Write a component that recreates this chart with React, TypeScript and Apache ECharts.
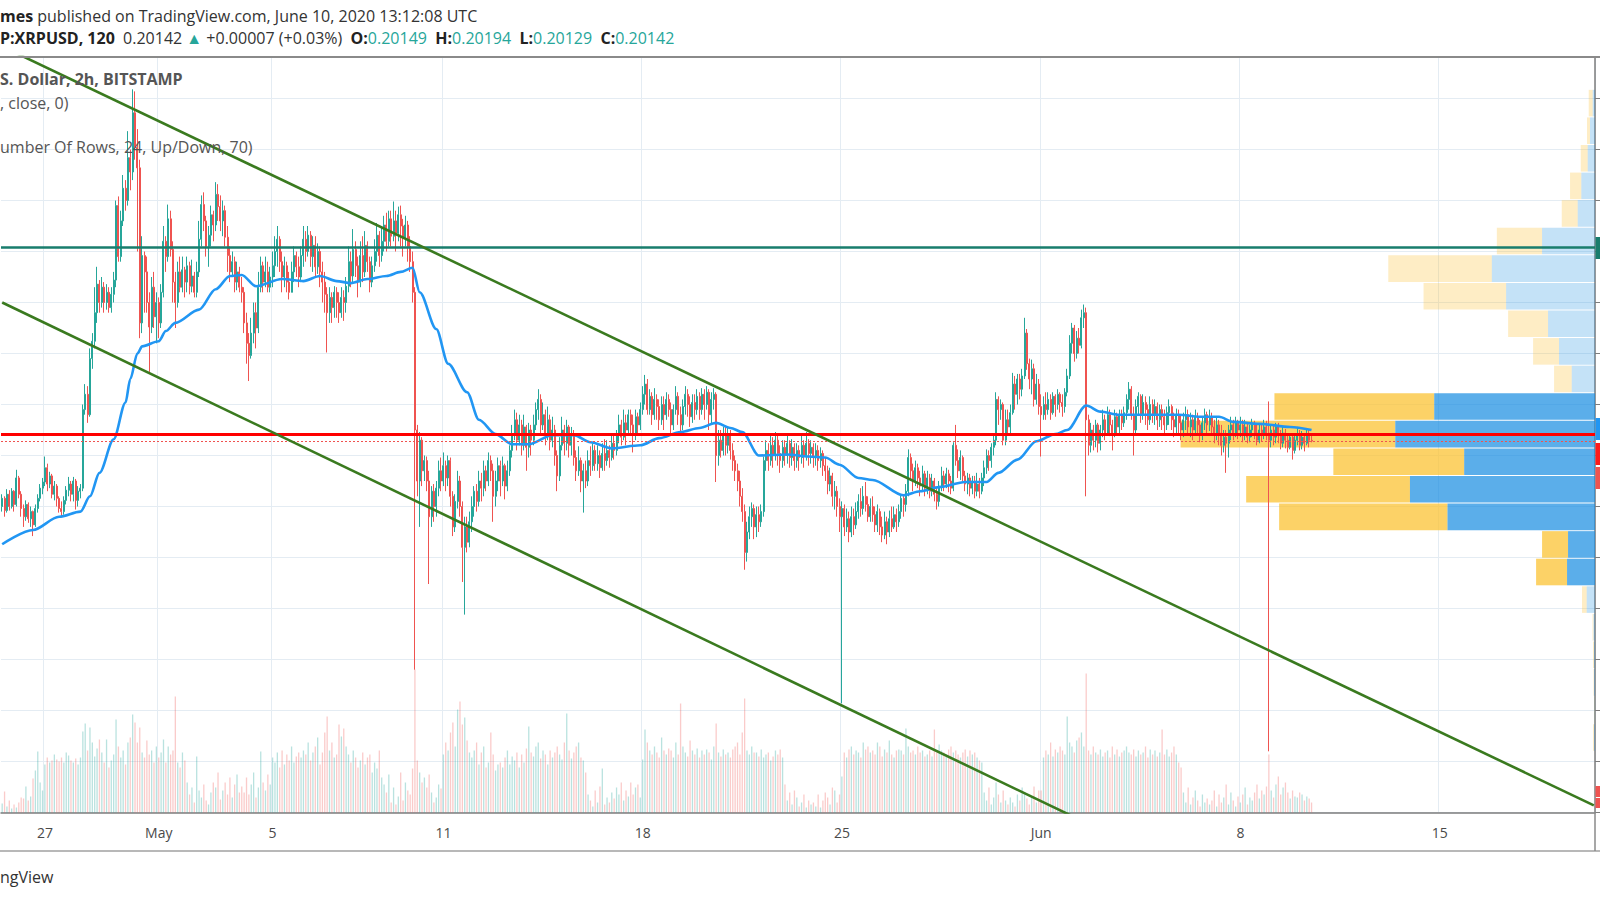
import React, { useEffect, useRef } from 'react';
import * as echarts from 'echarts';

// ---------- time axis ----------
const START_UTC = Date.UTC(2020, 3, 25, 12); // first 2h candle
const SLOT_MS = 2 * 3600 * 1000;
const TOTAL_SLOTS = 672; // visible slots incl. empty future space
const tickDates = ['2020-04-27', '2020-05-01', '2020-05-05', '2020-05-11', '2020-05-18', '2020-05-25', '2020-06-01', '2020-06-08', '2020-06-15'];
const tickLabels = ['27', 'May', '5', '11', '18', '25', 'Jun', '8', '15'];

// ---------- price data (units of 0.0001 USD) ----------
const firstOpen = 1950;
const closes = [
  1958,1946,1962,1950,1965,1952,
  1978,1962,1948,1940,1952,1938,1945,1932,1948,1958,1968,1974,
  1988,1972,1980,1962,1970,1958,1948,1945,1956,1966,1972,1962,
  1975,1956,1965,1968,2045,2060,2040,2095,2112,2140,2168,2150,
  2165,2150,2160,2145,2158,2172,2245,2195,2230,2262,2250,2292,
  2278,2336,2302,2282,2130,2196,2180,2150,2126,2165,2136,2150,
  2130,2160,2210,2195,2232,2202,2170,2150,2180,2165,2182,2170,
  2186,2166,2176,2160,2180,2212,2246,2230,2205,2216,2236,2226,
  2256,2244,2230,2240,2214,2196,2180,2190,2170,2180,2165,2160,
  2130,2110,2098,2120,2140,2125,2165,2186,2170,2180,2165,2175,
  2186,2200,2212,2190,2175,2186,2170,2160,2180,2196,2185,2175,
  2196,2212,2200,2216,2195,2206,2185,2200,2180,2170,2158,2140,
  2155,2145,2160,2150,2140,2155,2150,2166,2190,2176,2202,2186,
  2170,2196,2180,2206,2190,2170,2186,2200,2216,2196,2210,2226,
  2210,2232,2215,2230,2218,2236,2225,2214,2226,2205,2190,2160,
  2025,1975,2015,1985,1995,1975,1940,1965,1950,1968,1985,1975,
  1990,1978,1995,1960,1930,1955,1975,1950,1910,1930,1915,1935,
  1950,1965,1955,1975,1968,1985,1975,1995,1985,1960,1975,1990,
  1975,1990,1970,1985,2005,2020,2035,2015,2030,2010,2028,2008,
  2025,2015,2030,2045,2055,2030,2040,2020,2035,2015,2025,2000,
  1980,2010,2025,2012,2028,2010,2020,1998,1985,1995,1975,1985,
  1975,1995,1990,2005,1992,2000,1988,2002,1995,2005,1998,2012,
  2005,2020,2030,2018,2032,2025,2040,2030,2022,2038,2030,2045,
  2060,2070,2045,2058,2040,2055,2048,2035,2050,2040,2055,2045,
  2030,2045,2058,2040,2030,2048,2060,2050,2038,2052,2045,2058,
  2045,2060,2050,2062,2040,2055,2060,2000,2015,2005,2020,2010,
  2020,2005,1995,1985,1975,1960,1945,1905,1925,1940,1948,1930,
  1942,1935,1945,1995,2005,1995,2010,2000,2015,2002,1995,2008,
  2000,2012,1998,2008,1995,2005,1998,2010,2000,2012,2002,2008,
  1998,2005,1995,2002,1990,1985,1972,1980,1960,1965,1950,1940,
  1948,1930,1938,1925,1940,1932,1945,1955,1948,1960,1952,1940,
  1950,1942,1932,1945,1930,1922,1935,1925,1938,1930,1942,1935,
  1945,1958,1952,1965,1998,1985,1975,1988,1978,1970,1982,1968,
  1978,1965,1975,1962,1955,1970,1980,1972,1982,1975,1968,2010,
  1995,1985,1998,1980,1972,1978,1968,1975,1965,1972,1965,1978,
  1988,2000,1995,2008,2015,2055,2045,2050,2015,2035,2028,2042,
  2070,2060,2075,2065,2078,2120,2090,2075,2085,2055,2070,2048,
  2040,2050,2045,2055,2042,2058,2050,2060,2052,2048,2062,2078,
  2110,2125,2100,2115,2108,2135,2140,2035,2010,2025,2015,2030,
  2012,2025,2035,2022,2040,2030,2020,2038,2028,2040,2032,2042,
  2055,2065,2040,2025,2048,2058,2040,2052,2045,2035,2050,2040,
  2048,2035,2045,2038,2030,2042,2048,2035,2028,2040,2032,2025,
  2035,2040,2028,2035,2025,2038,2030,2020,2032,2040,2030,2038,
  2028,2020,2030,2022,2010,2018,2012,2025,2030,2022,2032,2025,
  2030,2020,2028,2018,2025,2030,2022,2015,2025,2020,2028,2022,
  2015,2025,2018,2028,2020,2012,2022,2015,2008,2018,2005,2015,
  2020,2010,2018,2012,2020,2014.9,2014.2,
];
const highs = [
  1962,1960,1967,1966,1968,1966,
  1986,1980,1965,1952,1956,1954,1950,1946,1952,1962,1972,1978,
  1999,1992,1984,1982,1975,1972,1960,1955,1960,1970,1979,1975,
  1979,1977,1970,1972,2050,2070,2068,2105,2120,2165,2185,2172,
  2175,2170,2168,2165,2165,2180,2250,2254,2240,2275,2270,2318,
  2300,2359,2357,2320,2290,2215,2200,2195,2160,2175,2180,2160,
  2155,2168,2225,2215,2246,2240,2210,2180,2190,2195,2195,2185,
  2195,2190,2192,2180,2190,2230,2255,2258,2235,2225,2245,2240,
  2268,2266,2255,2250,2245,2225,2205,2200,2195,2190,2185,2175,
  2165,2140,2120,2135,2150,2150,2180,2195,2190,2195,2190,2185,
  2200,2215,2225,2215,2200,2195,2190,2180,2190,2205,2200,2195,
  2205,2225,2220,2225,2220,2215,2215,2208,2205,2190,2180,2165,
  2165,2160,2166,2165,2160,2165,2162,2175,2205,2200,2222,2210,
  2195,2210,2215,2220,2210,2195,2195,2212,2228,2220,2225,2235,
  2238,2240,2240,2249,2240,2244,2245,2232,2235,2230,2215,2200,
  2165,2030,2023,2018,2000,1999,1985,1970,1972,1975,1995,1998,
  2003,1995,2000,1998,1965,1962,1985,1980,1955,1940,1940,1945,
  1960,1970,1972,1985,1983,1995,1990,2003,2000,1992,1985,1998,
  1995,1999,1992,1995,2010,2030,2045,2042,2040,2035,2040,2030,
  2032,2030,2040,2052,2065,2060,2052,2045,2048,2040,2038,2030,
  2005,2018,2038,2030,2035,2030,2028,2025,2005,2009,1998,1992,
  1995,2005,2009,2012,2010,2010,2005,2012,2016,2015,2010,2020,
  2020,2025,2040,2035,2045,2040,2045,2045,2040,2045,2042,2052,
  2068,2079,2075,2065,2062,2066,2060,2055,2058,2058,2062,2060,
  2052,2050,2068,2062,2048,2055,2068,2065,2058,2060,2060,2065,
  2062,2066,2065,2068,2065,2062,2066,2062,2025,2025,2028,2028,
  2028,2025,2012,2000,1992,1985,1968,1952,1935,1950,1954,1952,
  1950,1950,1952,1999,2015,2012,2020,2018,2023,2020,2010,2015,
  2015,2020,2015,2016,2012,2012,2010,2020,2015,2023,2016,2015,
  2012,2012,2010,2008,2005,1998,1990,1988,1983,1975,1970,1958,
  1955,1952,1948,1945,1950,1948,1954,1962,1968,1970,1974,1960,
  1958,1960,1950,1952,1948,1940,1945,1940,1946,1950,1950,1948,
  1952,1962,1962,1972,2006,2002,1992,1995,1992,1985,1990,1985,
  1985,1982,1982,1978,1968,1975,1989,1985,1988,1986,1980,2013,
  2030,2006,2005,2000,1985,1983,1982,1980,1980,1983,1978,1983,
  1995,2006,2005,2012,2020,2062,2058,2055,2052,2045,2045,2050,
  2081,2078,2080,2080,2085,2135,2124,2095,2094,2090,2080,2075,
  2060,2058,2062,2062,2060,2062,2060,2065,2062,2060,2066,2085,
  2118,2130,2128,2122,2125,2143,2148,2145,2040,2032,2030,2035,
  2032,2030,2045,2040,2048,2045,2035,2045,2042,2045,2045,2048,
  2060,2072,2068,2048,2055,2062,2060,2060,2058,2050,2058,2055,
  2055,2052,2050,2050,2045,2048,2055,2050,2042,2046,2045,2040,
  2042,2048,2045,2042,2040,2045,2042,2035,2038,2046,2043,2045,
  2042,2035,2038,2035,2030,2025,2025,2030,2038,2035,2038,2035,
  2038,2035,2035,2032,2030,2036,2034,2030,2030,2032,2035,2034,
  2053,2030,2030,2032,2032,2025,2028,2026,2020,2022,2020,2020,
  2028,2025,2024,2022,2026,2025,2019.4,
];
const lows = [
  1945,1940,1944,1946,1948,1945,
  1950,1958,1940,1930,1936,1934,1930,1921,1930,1944,1955,1962,
  1970,1965,1968,1958,1956,1950,1944,1940,1942,1952,1960,1955,
  1955,1947,1950,1958,1965,2040,2032,2038,2085,2105,2130,2140,
  2145,2140,2143,2140,2140,2150,2165,2190,2190,2225,2240,2245,
  2260,2270,2290,2200,2115,2120,2140,2140,2082,2120,2125,2110,
  2115,2125,2155,2180,2190,2195,2150,2125,2145,2160,2160,2155,
  2160,2158,2160,2155,2155,2175,2205,2220,2195,2185,2205,2210,
  2220,2230,2220,2215,2205,2180,2170,2175,2160,2162,2160,2150,
  2120,2090,2073,2095,2110,2105,2120,2160,2160,2165,2160,2160,
  2165,2175,2185,2180,2160,2165,2160,2153,2160,2170,2175,2165,
  2170,2185,2190,2195,2185,2180,2175,2178,2165,2150,2140,2101,
  2130,2130,2135,2135,2130,2135,2132,2140,2160,2165,2170,2175,
  2155,2165,2170,2175,2180,2160,2165,2180,2190,2185,2190,2200,
  2200,2205,2205,2210,2200,2210,2205,2195,2205,2190,2180,2150,
  1790,1960,1930,1970,1975,1965,1874,1930,1935,1940,1960,1965,
  1970,1965,1970,1950,1921,1925,1948,1940,1876,1844,1905,1910,
  1925,1940,1945,1950,1955,1960,1965,1970,1975,1935,1950,1965,
  1960,1970,1957,1965,1980,1998,2015,2005,2010,2000,2005,1985,
  1998,2000,2010,2025,2035,2020,2025,2010,2015,2005,2008,1990,
  1965,1975,2005,2000,2005,1998,2000,1990,1975,1980,1964,1944,
  1968,1970,1980,1985,1985,1985,1978,1985,1985,1990,1988,1995,
  1996,2000,2012,2010,2015,2010,2020,2020,2003,2015,2020,2025,
  2040,2050,2040,2040,2030,2035,2035,2025,2030,2025,2035,2038,
  2022,2025,2040,2030,2022,2025,2040,2038,2028,2032,2035,2040,
  2035,2040,2035,2045,2025,2030,2045,1974,1990,1998,2000,2000,
  2002,1996,1985,1975,1965,1950,1935,1888,1896,1918,1930,1918,
  1920,1925,1930,1940,1985,1985,1990,1988,1995,1990,1983,1988,
  1990,1992,1988,1990,1985,1988,1985,1992,1988,1995,1990,1992,
  1988,1990,1985,1988,1980,1975,1962,1965,1950,1947,1940,1925,
  1757,1921,1925,1915,1920,1922,1928,1938,1940,1942,1945,1935,
  1935,1935,1925,1925,1922,1915,1918,1913,1920,1925,1928,1925,
  1930,1938,1940,1945,1960,1975,1965,1970,1968,1960,1965,1960,
  1962,1958,1960,1955,1947,1950,1965,1965,1968,1964,1962,1965,
  1990,1978,1976,1975,1965,1962,1960,1962,1958,1960,1958,1962,
  1970,1982,1985,1988,2000,2010,2030,2035,2010,2010,2020,2022,
  2040,2045,2050,2055,2058,2075,2084,2065,2060,2048,2050,2040,
  1999,2035,2035,2040,2035,2040,2038,2045,2042,2038,2042,2058,
  2075,2100,2092,2095,2100,2105,2125,1960,2000,2003,2005,2008,
  2003,2005,2018,2015,2020,2019,2005,2018,2020,2022,2025,2028,
  2035,2045,2035,2000,2022,2040,2032,2035,2030,2025,2030,2032,
  2030,2025,2028,2025,2022,2025,2030,2025,2018,2022,2020,2015,
  2018,2025,2020,2018,2015,2020,2022,2013,2015,2025,2022,2024,
  2020,2012,2015,2010,2000,2003,1983,1998,2015,2015,2018,2016,
  2018,2013,2015,2012,2013,2018,2016,2010,2012,2014,2016,2015,
  1710,2008,2010,2012,2012,2006,2008,2007,2003,2006,1996,2002,
  2010,2005,2006,2004,2010,2008,2012.9,
];
// volume per candle (relative units)
const volumes = [
  9,21,6,12,4,8,
  5,10,15,14,26,12,16,34,42,61,30,22,
  48,55,50,52,58,53,51,55,50,60,57,52,
  50,54,48,55,81,89,62,85,70,56,64,73,
  60,50,73,45,52,58,93,66,55,62,48,70,
  75,98,90,70,85,60,55,72,58,62,50,66,
  55,60,73,50,66,58,62,116,50,45,60,52,
  30,18,25,10,56,22,15,28,12,8,20,30,
  25,40,13,22,30,18,35,15,28,38,20,26,
  20,35,18,28,40,15,25,61,30,22,38,28,
  55,50,60,45,62,48,58,52,66,50,56,60,
  55,62,58,70,52,60,66,75,48,60,80,96,
  62,70,55,58,88,76,84,66,58,50,62,55,
  45,52,60,48,55,58,40,50,44,62,35,28,
  20,38,10,25,8,16,40,12,30,22,18,44,
  143,52,40,30,35,25,38,20,10,15,28,24,
  58,70,62,80,90,66,103,111,88,95,72,60,
  55,62,70,48,60,66,45,50,80,58,42,48,
  50,45,55,62,48,56,52,60,45,58,50,64,
  86,60,56,66,70,54,62,58,48,62,55,60,
  66,58,53,70,99,62,54,60,66,70,55,52,
  40,18,12,6,22,10,26,44,8,15,10,20,
  14,25,18,30,12,22,16,30,18,25,28,15,
  53,83,70,62,58,66,60,55,75,62,58,64,
  62,55,70,58,109,66,60,56,72,62,58,64,
  55,62,58,63,60,53,66,89,60,56,63,58,
  60,55,63,66,70,58,80,114,62,58,66,60,
  60,56,63,55,58,60,52,56,62,58,63,55,
  28,12,20,8,22,15,6,10,18,5,12,8,
  10,6,18,5,12,20,15,8,25,22,10,18,
  36,60,55,63,66,58,62,60,55,70,63,66,
  60,62,58,70,66,56,63,60,72,58,55,62,
  63,62,58,84,66,60,62,58,66,60,62,56,
  58,62,56,83,60,68,62,60,58,63,66,60,
  62,58,55,60,63,56,62,58,60,55,52,50,
  20,12,25,8,15,30,18,10,22,12,8,15,
  10,6,18,12,25,20,14,8,16,26,10,22,
  22,55,62,58,70,56,63,60,66,62,58,96,
  70,66,60,72,75,80,66,139,62,58,66,60,
  58,63,56,60,62,55,66,58,63,56,60,62,
  66,60,58,63,56,62,58,60,66,55,63,58,
  62,56,60,83,58,63,56,60,66,58,50,45,
  20,10,25,8,15,22,12,6,18,10,14,8,
  12,22,6,18,10,15,28,8,20,12,6,16,
  10,18,25,8,15,12,20,28,14,22,18,26,
  58,22,15,28,36,18,25,30,20,14,22,16,
  15,20,18,12,16,14,10,
];

// moving average: candle index -> value (0.0001 USD)
const maIdx = [0,13,24,33,37,41,47,52,54,57,59,66,69,73,83,90,96,101,107,118,127,134,141,147,154,162,168,173,176,183,188,196,201,208,215,222,232,241,248,257,269,277,286,294,301,307,312,319,331,340,347,353,361,367,380,387,395,406,415,420,428,436,444,449,457,463,471,484,496,505,513,519,530,543,552];
const maVal = [1913,1927,1940,1945,1960,1983,2016,2052,2075,2100,2107,2112,2122,2130,2143,2163,2176,2177,2166,2173,2171,2176,2171,2169,2173,2176,2180,2184,2160,2124,2090,2062,2035,2021,2011,2011,2020,2020,2013,2007,2010,2017,2023,2027,2032,2027,2023,2000,2001,1999,1998,1991,1978,1976,1961,1965,1969,1974,1974,1983,1996,2014,2021,2025,2049,2043,2040,2040,2040,2038,2038,2033,2031,2028,2025];

// drawn annotations (candle index, price in 0.0001 USD)
const upperTrend = [[0, 2401], [671, 1657]];
const lowerTrend = [[0, 2150], [671, 1401]];
const resistanceLevel = 2204;
const supportLevel = 2021;
const lastPrice = 2014.2;

// visible-range volume profile, 24 rows from top (high) to bottom (low)
const vpHigh = 2359;
const vpLow = 1710;
const vpUp = [23,50,73,137,173,530,1033,890,470,360,233,1610,2000,1310,1853,1477,270,280,83,15,10,10,5,10];
const vpDown = [40,30,70,113,160,453,1037,827,400,260,177,1600,2150,1310,1640,1686,260,310,47,10,10,5,5,10];
const valueAreaRows = [11, 17];

const FONT = "'Open Sans', 'Noto Sans', sans-serif";
const UP = '#26a69a';
const DOWN = '#ef5350';

function buildOption(): any {
  const cats: string[] = [];
  for (let i = 0; i < TOTAL_SLOTS; i++) cats.push(new Date(START_UTC + i * SLOT_MS).toISOString().slice(0, 13));
  const tickMap: Record<string, string> = {};
  tickDates.forEach((d, i) => { tickMap[d + 'T00'] = tickLabels[i]; });
  const isTick = (_i: number, v: string) => !!tickMap[v];

  const opens = closes.map((c, i) => (i === 0 ? firstOpen : closes[i - 1]));
  const candleData = closes.map((c, i) => {
    const o = opens[i];
    return [o / 1e4, c / 1e4, Math.min(lows[i], o, c) / 1e4, Math.max(highs[i], o, c) / 1e4];
  });
  const volData = volumes.map((v, i) => ({
    value: v,
    itemStyle: { color: closes[i] >= opens[i] ? 'rgba(38,166,154,0.32)' : 'rgba(239,83,80,0.3)' },
  }));
  const maData = maIdx.map((x, i) => [x, maVal[i] / 1e4]);
  const maxTotal = Math.max(...vpUp.map((u, i) => u + vpDown[i]));
  const rowStep = (vpHigh - vpLow) / vpUp.length;

  const lineSeries = (data: number[][]) => ({
    type: 'line', data: data.map(p => [p[0], p[1] / 1e4]), symbol: 'none', silent: true, z: 5,
    lineStyle: { color: '#3a7a1f', width: 2.6 },
  });

  return {
    animation: false,
    backgroundColor: '#ffffff',
    grid: { left: 1, right: 5, top: 57, bottom: 87.5, containLabel: false },
    xAxis: {
      type: 'category', data: cats, boundaryGap: true,
      axisLine: { lineStyle: { color: '#7d7d7d', width: 1.5 } },
      axisTick: { interval: isTick, alignWithLabel: true, length: 4, lineStyle: { color: '#7d7d7d' } },
      axisLabel: { interval: isTick, formatter: (v: string) => tickMap[v] || '', color: '#4a4a4a', fontSize: 14, fontFamily: FONT, margin: 13 },
      splitLine: { show: true, interval: isTick, lineStyle: { color: '#e4ecf3', width: 1 } },
    },
    yAxis: [
      {
        type: 'value', position: 'right', min: 0.165, max: 0.239069, interval: 0.005, scale: true,
        axisLine: { show: true, lineStyle: { color: '#7d7d7d', width: 1.5 } },
        axisTick: { show: true, length: 5, lineStyle: { color: '#7d7d7d' } },
        axisLabel: { show: false },
        splitLine: { show: true, lineStyle: { color: '#e4ecf3', width: 1 } },
      },
      { type: 'value', min: 0, max: 755.5, show: false, splitLine: { show: false } },
    ],
    series: [
      {
        type: 'custom', z: 1, silent: true, clip: false,
        data: vpUp.map((u, i) => [i, u, vpDown[i]]),
        encode: { x: 0, y: 1 },
        renderItem: (params: any, api: any) => {
          const row = api.value(0);
          const up = api.value(1);
          const down = api.value(2);
          const pTop = (vpHigh - row * rowStep) / 1e4;
          const pBot = (vpHigh - (row + 1) * rowStep) / 1e4;
          const yTop = api.coord([0, pTop])[1];
          const yBot = api.coord([0, pBot])[1];
          const cs = params.coordSys;
          const right = cs.x + cs.width;
          const k = (cs.width * 0.26) / maxTotal;
          const inVA = row >= valueAreaRows[0] && row <= valueAreaRows[1];
          const h = Math.max(0, yBot - yTop - 1);
          return {
            type: 'group',
            children: [
              { type: 'rect', shape: { x: right - (up + down) * k, y: yTop + 0.5, width: down * k, height: h },
                style: { fill: inVA ? 'rgba(251,192,45,0.72)' : 'rgba(251,192,45,0.28)' } },
              { type: 'rect', shape: { x: right - up * k, y: yTop + 0.5, width: up * k, height: h },
                style: { fill: inVA ? 'rgba(21,140,225,0.7)' : 'rgba(21,140,225,0.25)' } },
            ],
          };
        },
      },
      {
        type: 'bar', yAxisIndex: 1, data: volData, barWidth: 1.3, silent: true, z: 2,
      },
      {
        type: 'candlestick', data: candleData, barWidth: 1.5, z: 3, silent: true,
        itemStyle: { color: UP, color0: DOWN, borderColor: UP, borderColor0: DOWN, borderWidth: 1 },
      },
      {
        type: 'line', data: maData, symbol: 'none', smooth: 0.3, smoothMonotone: 'x', silent: true, z: 4,
        lineStyle: { color: '#2196f3', width: 2.6 },
      },
      lineSeries(upperTrend),
      lineSeries(lowerTrend),
      {
        type: 'line', data: [], z: 6, silent: true,
        markLine: {
          silent: true, symbol: ['none', 'none'], label: { show: false }, animation: false, precision: 6,
          data: [
            { yAxis: resistanceLevel / 1e4, lineStyle: { color: '#187d6d', width: 2.5, type: 'solid' } },
            { yAxis: supportLevel / 1e4, lineStyle: { color: '#ff0000', width: 3, type: 'solid' } },
            { yAxis: lastPrice / 1e4, lineStyle: { color: '#ef5350', width: 1, type: [2, 2] } },
          ],
        },
      },
    ],
    graphic: [
      { type: 'line', shape: { x1: 0, y1: 57, x2: 1600, y2: 57 }, style: { stroke: '#8a8a8a', lineWidth: 2 }, z: 10 },
      { type: 'line', shape: { x1: 0, y1: 851, x2: 1600, y2: 851 }, style: { stroke: '#a0a0a0', lineWidth: 1.5 }, z: 10 },
      { type: 'line', shape: { x1: 1595, y1: 812, x2: 1595, y2: 851 }, style: { stroke: '#8a8a8a', lineWidth: 1.5 }, z: 10 },
      { type: 'rect', shape: { x: 1595.5, y: 237, width: 5, height: 22 }, style: { fill: '#187d6d' }, z: 10 },
      { type: 'rect', shape: { x: 1595.5, y: 418, width: 5, height: 22 }, style: { fill: '#2196f3' }, z: 10 },
      { type: 'rect', shape: { x: 1595.5, y: 443, width: 5, height: 22 }, style: { fill: '#ff1a1a' }, z: 10 },
      { type: 'rect', shape: { x: 1595.5, y: 467, width: 5, height: 22 }, style: { fill: '#ef5350' }, z: 10 },
      { type: 'rect', shape: { x: 1595.5, y: 786, width: 5, height: 11 }, style: { fill: '#ef5350' }, z: 10 },
      { type: 'rect', shape: { x: 1595.5, y: 798, width: 5, height: 10 }, style: { fill: '#ef5350' }, z: 10 },
      {
        type: 'text', x: 0, y: 16, z: 10,
        style: {
          text: '{b|mes} published on TradingView.com, June 10, 2020 13:12:08 UTC',
          fill: '#333333', fontSize: 16, fontFamily: FONT, verticalAlign: 'middle',
          rich: { b: { fontWeight: 'bold', fontSize: 16, fontFamily: FONT, fill: '#222222' } },
        },
      },
      {
        type: 'text', x: 0, y: 38, z: 10,
        style: {
          text: '{b|P:XRPUSD, 120}  0.20142 {g|▲} +0.00007 (+0.03%)  {b|O:}{v|0.20149}  {b|H:}{v|0.20194}  {b|L:}{v|0.20129}  {b|C:}{v|0.20142}',
          fill: '#333333', fontSize: 16, fontFamily: FONT, verticalAlign: 'middle',
          rich: {
            b: { fontWeight: 'bold', fontSize: 16, fontFamily: FONT, fill: '#222222' },
            v: { fontSize: 16, fontFamily: FONT, fill: '#26a69a' },
            g: { fontSize: 16, fontFamily: FONT, fill: '#26a69a' },
          },
        },
      },
      { type: 'text', x: 0, y: 79, z: 10, style: { text: 'S. Dollar, 2h, BITSTAMP', fill: '#555555', fontSize: 16, fontWeight: 'bold', fontFamily: FONT, verticalAlign: 'middle' } },
      { type: 'text', x: 0, y: 103, z: 10, style: { text: ', close, 0)', fill: '#555555', fontSize: 16, fontFamily: FONT, verticalAlign: 'middle' } },
      { type: 'text', x: 0, y: 147, z: 10, style: { text: 'umber Of Rows, 24, Up/Down, 70)', fill: '#555555', fontSize: 16, fontFamily: FONT, verticalAlign: 'middle' } },
      { type: 'text', x: 0, y: 877, z: 10, style: { text: 'ngView', fill: '#333333', fontSize: 16, fontFamily: FONT, verticalAlign: 'middle' } },
    ],
  };
}

export default function App() {
  const ref = useRef<HTMLDivElement>(null);
  useEffect(() => {
    if (!ref.current) return;
    const chart = echarts.init(ref.current, undefined, { renderer: 'svg' });
    chart.setOption(buildOption());
    return () => chart.dispose();
  }, []);
  return (
    <div
      ref={ref}
      style={{ position: 'absolute', left: 0, top: 0, width: 1600, height: 900, background: '#ffffff' }}
    />
  );
}
